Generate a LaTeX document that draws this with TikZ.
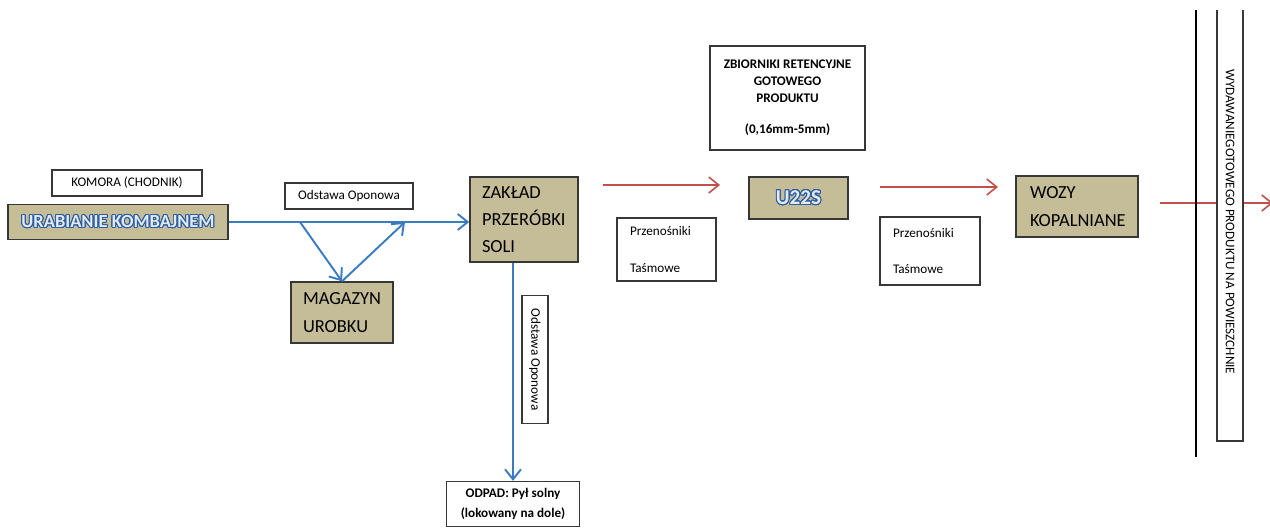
\documentclass[tikz,border=0pt]{standalone}
\usepackage{fontspec}
\setmainfont{Carlito}
\usepackage{contour}
\usetikzlibrary{arrows.meta}
\contourlength{0.55pt}
\contournumber{24}
\definecolor{boxtan}{RGB}{196,189,151}
\definecolor{lineblue}{RGB}{58,124,192}
\definecolor{linered}{RGB}{192,80,77}
\definecolor{edgegray}{RGB}{55,55,55}
\definecolor{glowfill}{RGB}{226,234,244}
\definecolor{glowblue}{RGB}{47,94,160}
\newlength\unitpx
\setlength\unitpx{0.02cm}
\newcommand\glow[1]{\contour{glowblue}{\textcolor{glowfill}{#1}}}

\begin{document}
\begin{tikzpicture}[x=0.02cm, y=-0.02cm,
  box/.style={draw=edgegray, line width=0.8pt, rectangle, inner sep=0pt, align=center, font=\fontsize{7.5}{9.6}\selectfont},
  tanbox/.style={box, fill=boxtan, font=\fontsize{10.5}{15.5}\selectfont},
  bluearr/.style={draw=lineblue, line width=1.1pt, -{Straight Barb[length=2mm, width=3.2mm]}},
  redarr/.style={draw=linered, line width=0.9pt, -{Straight Barb[length=2mm, width=3.2mm]}}
]
\useasboundingbox (0,0) rectangle (1270,527);

\node[box, minimum width=150\unitpx, minimum height=26\unitpx] (komora) at (127,183) {KOMORA (CHODNIK)};
\node[tanbox, minimum width=220\unitpx, minimum height=35\unitpx, font=\fontsize{10.5}{12}\selectfont\bfseries] (urab) at (118,222) {\glow{URABIANIE KOMBAJNEM}};
\node[box, minimum width=128\unitpx, minimum height=26\unitpx] (odst1) at (349,196) {Odstawa Oponowa};
\node[tanbox, minimum width=102\unitpx, minimum height=61\unitpx, text width=78\unitpx, align=left] (magazyn) at (342,312.5) {MAGAZYN\\UROBKU};
\node[tanbox, minimum width=108\unitpx, minimum height=85\unitpx, text width=84\unitpx, align=left] (zaklad) at (524,219.5) {ZAKŁAD\\PRZERÓBKI\\SOLI};
\node[box, rotate=-90, minimum width=128\unitpx, minimum height=26\unitpx] (odst2) at (535,359.5) {Odstawa Oponowa};
\node[box, minimum width=133\unitpx, minimum height=45\unitpx, font=\fontsize{7.5}{11}\selectfont\bfseries] (odpad) at (513,504) {ODPAD: Pył solny\\(lokowany na dole)};
\node[box, minimum width=155\unitpx, minimum height=104\unitpx, font=\fontsize{7.5}{9.6}\selectfont\bfseries] (zbiorniki) at (787.5,98) {ZBIORNIKI RETENCYJNE\\GOTOWEGO\\PRODUKTU\\[8pt](0,16mm-5mm)};
\node[tanbox, minimum width=99\unitpx, minimum height=42\unitpx, font=\fontsize{12}{14}\selectfont\bfseries] (u22s) at (798.5,198) {\glow{U22S}};
\node[box, minimum width=99\unitpx, minimum height=63\unitpx, text width=73\unitpx, align=left] (przen1) at (666.5,249.5) {Przenośniki\\[11pt]Taśmowe};
\node[box, minimum width=100\unitpx, minimum height=68\unitpx, text width=74\unitpx, align=left] (przen2) at (930,251) {Przenośniki\\[11pt]Taśmowe};
\node[tanbox, minimum width=122\unitpx, minimum height=61\unitpx, text width=94\unitpx, align=left] (wozy) at (1077,206.5) {WOZY\\KOPALNIANE};

\coordinate (split) at (300,222);
\coordinate (merge) at (405,222);
\coordinate (r1a) at (603,185);
\coordinate (r1b) at (720,185);
\coordinate (r2a) at (880,187);
\coordinate (r2b) at (998,187);
\coordinate (r3a) at (1160,203);
\coordinate (r3b) at (1273,203);

\draw[bluearr] (urab.east) -- (urab.east -| zaklad.west);
\draw[bluearr] (split) -- (magazyn.north);
\draw[bluearr] (magazyn.north) -- (merge);
\draw[bluearr] (odpad.north |- zaklad.south) -- (odpad.north);
\draw[redarr] (r1a) -- (r1b);
\draw[redarr] (r2a) -- (r2b);
\draw[redarr] (r3a) -- (r3b);

\draw[black, line width=1pt] (1196,10) -- (1196,457);
\draw[edgegray, line width=0.8pt, fill=white] (1217,10) -- (1217,441) -- (1243,441) -- (1243,10);
\node[rotate=-90, inner sep=0pt, font=\fontsize{7.5}{9}\selectfont] (wyd) at (1230,222) {WYDAWANIEGOTOWEGO PRODUKTU NA POWIESZCHNIE};
\end{tikzpicture}
\end{document}
